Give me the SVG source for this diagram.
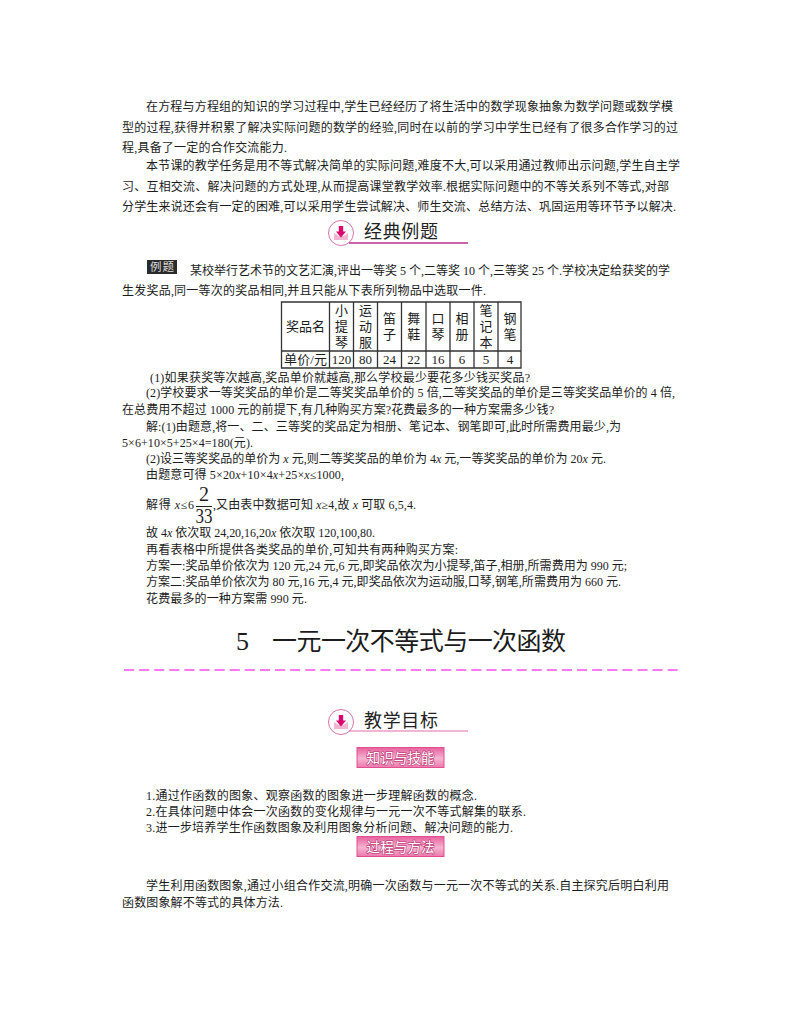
<svg xmlns="http://www.w3.org/2000/svg" width="800" height="1028" viewBox="0 0 800 1028">
<style>
text{font-family:"Liberation Serif","Noto Sans CJK SC",sans-serif;fill:#1c1c1c;font-size:12px}
.h{font-family:"Noto Sans CJK SC",sans-serif;font-size:18px;fill:#222}
.t{font-size:13px;text-anchor:middle}
.i{font-style:italic}
.btn{font-family:"Noto Sans CJK SC",sans-serif;font-size:13.5px;fill:#fff;stroke:#c2457f;stroke-width:1.4px;paint-order:stroke;text-anchor:middle}
.g{fill:none;stroke:#333;stroke-width:1.3}
</style>
<defs>
<linearGradient id="bg" x1="0" y1="0" x2="0" y2="1"><stop offset="0" stop-color="#e8609f"/><stop offset=".55" stop-color="#f5b3d0"/><stop offset="1" stop-color="#ec78ac"/></linearGradient>
<g id="ic">
<circle cx="0" cy="0" r="12.5" fill="#fff" stroke="#d873a8" stroke-width="1"/>
<path d="M-7 0 L-2.500 3 H2.500 L7 0 V7 H-7 Z" fill="#f3b6d2"/>
<path d="M-2.200 -7 H2.200 V-1.500 H5 L0 4.500 L-5 -1.500 H-2.200 Z" fill="#d8086f"/>
</g>
</defs>
<rect width="800" height="1028" fill="#fff"/>
<g id="intro">
<text x="146" y="111" textLength="527">在方程与方程组的知识的学习过程中,学生已经经历了将生活中的数学现象抽象为数学问题或数学模</text>
<text x="122" y="132" textLength="556">型的过程,获得并积累了解决实际问题的数学的经验,同时在以前的学习中学生已经有了很多合作学习的过</text>
<text x="122" y="152" textLength="165">程,具备了一定的合作交流能力.</text>
<text x="146" y="170" textLength="534">本节课的教学任务是用不等式解决简单的实际问题,难度不大,可以采用通过教师出示问题,学生自主学</text>
<text x="122" y="191" textLength="547">习、互相交流、解决问题的方式处理,从而提高课堂教学效率.根据实际问题中的不等关系列不等式,对部</text>
<text x="122" y="211" textLength="554">分学生来说还会有一定的困难,可以采用学生尝试解决、师生交流、总结方法、巩固运用等环节予以解决.</text>
</g>
<g id="heading-example">
<use href="#ic" x="341" y="233"/>
<path d="M349 243 H468" stroke="#b8308f" stroke-width="1.3" fill="none"/>
<text class="h" x="364" y="238" textLength="74">经典例题</text>
</g>
<g id="example">
<rect x="147" y="260" width="30" height="14" fill="#2b2b2b"/>
<text x="150" y="271" textLength="24" style="fill:#ddd;font-size:11.5px">例题</text>
<text x="190" y="275" textLength="480">某校举行艺术节的文艺汇演,评出一等奖 5 个,二等奖 10 个,三等奖 25 个.学校决定给获奖的学</text>
<text x="122" y="295" textLength="364">生发奖品,同一等次的奖品相同,并且只能从下表所列物品中选取一件.</text>
</g>
<g id="table">
<path class="g" d="M281.500 302H521V368H281.500ZM281.500 351H521M329.500 302V368M353.500 302V368M377.500 302V368M401.500 302V368M426 302V368M450 302V368M474 302V368M498 302V368"/>
<text class="t" x="305.500" y="331">奖品名</text>
<text class="t" x="341.500" y="315">小</text><text class="t" x="341.500" y="331">提</text><text class="t" x="341.500" y="347">琴</text>
<text class="t" x="365.500" y="315">运</text><text class="t" x="365.500" y="331">动</text><text class="t" x="365.500" y="347">服</text>
<text class="t" x="389.500" y="323">笛</text><text class="t" x="389.500" y="339">子</text>
<text class="t" x="413.700" y="323">舞</text><text class="t" x="413.700" y="339">鞋</text>
<text class="t" x="438" y="323">口</text><text class="t" x="438" y="339">琴</text>
<text class="t" x="462" y="323">相</text><text class="t" x="462" y="339">册</text>
<text class="t" x="486" y="315">笔</text><text class="t" x="486" y="331">记</text><text class="t" x="486" y="347">本</text>
<text class="t" x="510" y="323">钢</text><text class="t" x="510" y="339">笔</text>
<text class="t" x="305.500" y="364" textLength="43">单价/元</text>
<text class="t" x="341.500" y="364">120</text><text class="t" x="365.500" y="364">80</text><text class="t" x="389.500" y="364">24</text><text class="t" x="413.700" y="364">22</text><text class="t" x="438" y="364">16</text><text class="t" x="462" y="364">6</text><text class="t" x="486" y="364">5</text><text class="t" x="510" y="364">4</text>
</g>
<g id="solution">
<text x="150" y="382" textLength="380">(1)如果获奖等次越高,奖品单价就越高,那么学校最少要花多少钱买奖品?</text>
<text x="146" y="397" textLength="529">(2)学校要求一等奖奖品的单价是二等奖奖品单价的 5 倍,二等奖奖品的单价是三等奖奖品单价的 4 倍,</text>
<text x="122" y="414" textLength="432">在总费用不超过 1000 元的前提下,有几种购买方案?花费最多的一种方案需多少钱?</text>
<text x="146" y="431" textLength="475">解:(1)由题意,将一、二、三等奖的奖品定为相册、笔记本、钢笔即可,此时所需费用最少,为</text>
<text x="122" y="447" textLength="131">5×6+10×5+25×4=180(元).</text>
<text x="146" y="463" textLength="460">(2)设三等奖奖品的单价为 <tspan class="i">x</tspan> 元,则二等奖奖品的单价为 4<tspan class="i">x</tspan> 元,一等奖奖品的单价为 20<tspan class="i">x</tspan> 元.</text>
<text x="146" y="479" textLength="198">由题意可得 5×20<tspan class="i">x</tspan>+10×4<tspan class="i">x</tspan>+25×<tspan class="i">x</tspan>≤1000,</text>
<text x="146" y="509" textLength="48">解得 <tspan class="i">x</tspan>≤6</text>
<text x="204" y="501" style="font-size:20px;text-anchor:middle">2</text>
<path d="M196 506.500H212" stroke="#222" fill="none"/>
<text x="204" y="523" textLength="17" lengthAdjust="spacingAndGlyphs" style="font-size:20px;text-anchor:middle">33</text>
<text x="213" y="509" textLength="203">,又由表中数据可知 <tspan class="i">x</tspan>≥4,故 <tspan class="i">x</tspan> 可取 6,5,4.</text>
<text x="146" y="537" textLength="229">故 4<tspan class="i">x</tspan> 依次取 24,20,16,20<tspan class="i">x</tspan> 依次取 120,100,80.</text>
<text x="146" y="554" textLength="312">再看表格中所提供各类奖品的单价,可知共有两种购买方案:</text>
<text x="146" y="570" textLength="481">方案一:奖品单价依次为 120 元,24 元,6 元,即奖品依次为小提琴,笛子,相册,所需费用为 990 元;</text>
<text x="146" y="586" textLength="475">方案二:奖品单价依次为 80 元,16 元,4 元,即奖品依次为运动服,口琴,钢笔,所需费用为 660 元.</text>
<text x="146" y="603" textLength="161">花费最多的一种方案需 990 元.</text>
</g>
<g id="title">
<text x="236" y="650" style="font-size:26px">5</text>
<text x="272" y="650" textLength="294" style="font-size:25px;font-family:'Noto Sans CJK SC',sans-serif">一元一次不等式与一次函数</text>
<path d="M124 670H678" stroke="#f94ff0" stroke-width="1.5" stroke-dasharray="10.1 5" fill="none"/>
</g>
<g id="heading-goals">
<use href="#ic" x="341" y="722"/>
<path d="M349 731 H468" stroke="#e36aa8" stroke-width="1" fill="none"/>
<text class="h" x="364" y="727" textLength="74">教学目标</text>
</g>
<g id="btn-skills">
<rect x="357" y="747.500" width="87" height="20" fill="url(#bg)" stroke="#e0508f"/>
<text class="btn" x="400.500" y="762.500" textLength="68">知识与技能</text>
</g>
<g id="goals">
<text x="146" y="800" textLength="331">1.通过作函数的图象、观察函数的图象进一步理解函数的概念.</text>
<text x="146" y="816" textLength="380">2.在具体问题中体会一次函数的变化规律与一元一次不等式解集的联系.</text>
<text x="146" y="832" textLength="367">3.进一步培养学生作函数图象及利用图象分析问题、解决问题的能力.</text>
</g>
<g id="btn-method">
<rect x="357" y="836.500" width="87" height="20" fill="url(#bg)" stroke="#e0508f"/>
<text class="btn" x="400.500" y="851.500" textLength="68">过程与方法</text>
</g>
<g id="method">
<text x="146" y="890" textLength="523">学生利用函数图象,通过小组合作交流,明确一次函数与一元一次不等式的关系.自主探究后明白利用</text>
<text x="122" y="907" textLength="161">函数图象解不等式的具体方法.</text>
</g>
</svg>
